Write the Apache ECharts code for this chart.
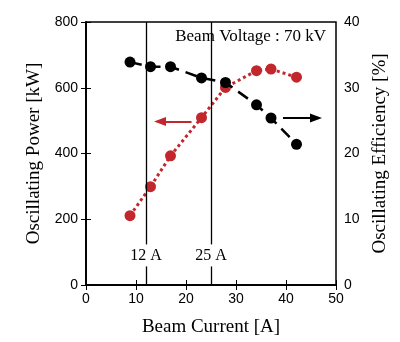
<!DOCTYPE html>
<html>
<head>
<meta charset="utf-8">
<script src="https://cdn.jsdelivr.net/npm/echarts@6/dist/echarts.min.js"></script>
<style>html,body{margin:0;padding:0;background:#fff}#c{width:400px;height:342px}</style>
</head>
<body>
<div id="c"></div>
<script>
// beam current [A]
var current = [8.8, 12.9, 16.9, 23.1, 27.9, 34.1, 37.0, 42.1];
// oscillating power [kW]
var power = [211, 299, 393, 509, 601, 652, 657, 632];
// oscillating efficiency [%]
var efficiency = [33.9, 33.2, 33.2, 31.5, 30.8, 27.4, 25.4, 21.4];
var markCurrents = [12, 25];
var red = '#c1272d';

function pairs(xs, ys) {
    return xs.map(function (x, i) { return [x, ys[i]]; });
}

var serif = 'Liberation Serif';
var sans = 'Liberation Sans';

var chart = echarts.init(document.getElementById('c'));
chart.setOption({
    animation: false,
    grid: { left: 86, right: 64, top: 22, bottom: 57, show: true, borderColor: '#000', borderWidth: 1.5 },
    xAxis: [{
        type: 'value', min: 0, max: 50, interval: 10,
        name: 'Beam Current [A]', nameLocation: 'middle', nameGap: 33,
        nameTextStyle: { fontFamily: serif, fontSize: 19, color: '#000' },
        axisLine: { lineStyle: { color: '#000', width: 1.5 } },
        axisTick: { inside: true, length: 5, lineStyle: { color: '#000' } },
        axisLabel: { fontFamily: sans, fontSize: 14, color: '#000', margin: 7 },
        splitLine: { show: false }
    }, {
        type: 'value', min: 0, max: 50, interval: 10, position: 'top',
        axisLine: { lineStyle: { color: '#000', width: 1.5 } },
        axisTick: { inside: true, length: 5, lineStyle: { color: '#000' } },
        axisLabel: { show: false },
        splitLine: { show: false }
    }],
    yAxis: [{
        type: 'value', min: 0, max: 800, interval: 200,
        name: 'Oscillating Power [kW]', nameLocation: 'middle', nameGap: 42,
        nameTextStyle: { fontFamily: serif, fontSize: 19, color: '#000' },
        axisLine: { show: true, lineStyle: { color: '#000', width: 1.5 } },
        axisTick: { show: true, inside: true, length: 5, lineStyle: { color: '#000' } },
        axisLabel: { fontFamily: sans, fontSize: 14, color: '#000', margin: 8 },
        splitLine: { show: false }
    }, {
        type: 'value', min: 0, max: 40, interval: 10, position: 'right',
        name: 'Oscillating Efficiency [%]', nameLocation: 'middle', nameGap: 34,
        nameRotate: 90,
        nameTextStyle: { fontFamily: serif, fontSize: 19, color: '#000' },
        axisLine: { show: true, lineStyle: { color: '#000', width: 1.5 } },
        axisTick: { show: true, inside: true, length: 5, lineStyle: { color: '#000' } },
        axisLabel: { fontFamily: sans, fontSize: 14, color: '#000', margin: 8 },
        splitLine: { show: false }
    }],
    graphic: [{
        type: 'text', right: 74, top: 28,
        style: { text: 'Beam Voltage : 70 kV', fontFamily: serif, fontSize: 17, fill: '#000' }
    }],
    series: [{
        name: 'power', type: 'line', yAxisIndex: 0,
        data: pairs(current, power),
        symbol: 'circle', symbolSize: 11,
        itemStyle: { color: red },
        lineStyle: { color: red, width: 3, type: [3, 3] },
        z: 3,
        markLine: {
            silent: true, symbol: ['none', 'triangle'], symbolSize: [9, 12], symbolRotate: null,
            lineStyle: { color: red, width: 2, type: 'solid' },
            label: { show: false },
            data: [[{ coord: [21.1, 497] }, { coord: [14.8, 497] }]]
        }
    }, {
        name: 'efficiency', type: 'line', yAxisIndex: 1,
        data: pairs(current, efficiency),
        symbol: 'circle', symbolSize: 11,
        itemStyle: { color: '#000' },
        lineStyle: { color: '#000', width: 2.5, type: [12, 7] },
        z: 4,
        markLine: {
            silent: true, symbol: ['none', 'triangle'], symbolSize: [9, 12],
            lineStyle: { color: '#000', width: 2, type: 'solid' },
            label: { show: false },
            data: [[{ coord: [39.4, 25.4] }, { coord: [46, 25.4] }]]
        }
    }, {
        name: 'marks', type: 'line', yAxisIndex: 0, data: [],
        markLine: {
            silent: true, symbol: 'none',
            lineStyle: { color: '#000', width: 1.3, type: 'solid' },
            label: { show: false },
            data: markCurrents.map(function (c) { return { xAxis: c }; })
        },
        markPoint: {
            silent: true, symbol: 'rect', symbolSize: 0,
            label: {
                show: true, position: 'inside', fontFamily: serif, fontSize: 16, color: '#000',
                backgroundColor: '#fff', padding: [3, 0, 3, 0],
                formatter: function (p) { return p.value + ' A'; }
            },
            data: markCurrents.map(function (c) { return { coord: [c, 90], value: c }; })
        }
    }]
});
</script>
</body>
</html>
